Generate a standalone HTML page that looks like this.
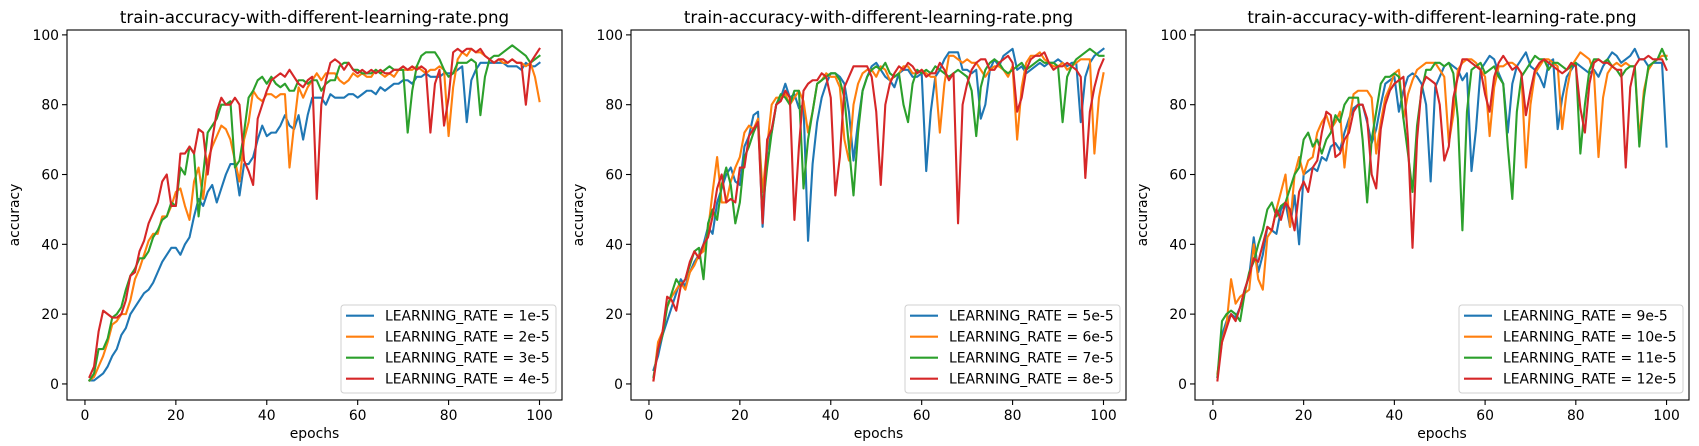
<!DOCTYPE html>
<html><head><meta charset="utf-8"><style>
body{margin:0;background:#fff;}
svg{display:block;font-family:"DejaVu Sans","Liberation Sans",sans-serif;}
</style></head><body>
<svg id="fig" width="1699" height="446" viewBox="0 0 1699 446"></svg>
<script>
const epochs = Array.from({length:100},(_,i)=>i+1);
const xTicks = [0,20,40,60,80,100];
const yTicks = [0,20,40,60,80,100];
const titles = ["train-accuracy-with-different-learning-rate.png","train-accuracy-with-different-learning-rate.png","train-accuracy-with-different-learning-rate.png"];
const labels1 = ["LEARNING_RATE = 1e-5","LEARNING_RATE = 2e-5","LEARNING_RATE = 3e-5","LEARNING_RATE = 4e-5"];
const labels2 = ["LEARNING_RATE = 5e-5","LEARNING_RATE = 6e-5","LEARNING_RATE = 7e-5","LEARNING_RATE = 8e-5"];
const labels3 = ["LEARNING_RATE = 9e-5","LEARNING_RATE = 10e-5","LEARNING_RATE = 11e-5","LEARNING_RATE = 12e-5"];
const lr1e5 = [1,1,2,3,5,8,10,14,16,20,22,24,26,27,29,32,35,37,39,39,37,40,42,48,53,51,55,57,52,56,60,63,63,54,63,63,65,70,74,71,72,72,74,77,74,73,77,70,77,82,82,82,80,83,82,82,82,83,83,82,83,84,84,83,85,84,85,86,86,87,87,86,88,88,89,88,88,88,89,89,89,90,91,75,87,90,92,92,92,92,92,92,91,91,91,90,92,91,91,92];
const lr2e5 = [1,2,5,8,12,17,18,20,20,24,30,33,37,41,43,43,48,48,51,55,56,51,47,58,62,53,64,68,71,74,73,70,64,58,70,75,84,82,81,83,83,82,83,83,62,74,85,82,85,87,89,87,89,89,89,87,86,87,89,88,89,88,88,90,89,88,89,88,90,90,90,90,91,90,89,90,90,91,90,71,85,93,95,94,96,95,95,94,93,92,93,92,92,93,92,92,91,92,88,81];
const lr3e5 = [1,3,10,10,13,19,20,22,27,31,33,36,36,38,42,44,47,48,52,51,62,60,68,66,48,60,72,74,76,80,80,81,62,64,72,82,84,87,88,86,88,86,85,86,84,84,87,87,86,87,87,84,86,87,87,91,92,92,90,90,89,89,89,90,89,90,91,90,90,90,72,84,91,94,95,95,95,93,90,88,89,92,92,92,93,92,77,88,93,94,94,95,96,97,96,95,94,92,93,94];
const lr4e5 = [2,5,15,21,20,19,19,20,24,31,32,38,41,46,49,52,58,60,51,51,66,66,68,66,73,72,60,70,78,82,80,80,82,80,64,61,57,76,80,84,87,88,89,88,90,88,86,85,87,88,53,80,87,92,93,92,90,92,90,89,90,89,90,89,90,89,89,90,90,91,90,91,90,91,90,72,86,90,74,82,95,96,95,96,96,95,96,94,93,92,93,93,92,93,92,92,80,92,94,96];
const lr5e5 = [4,8,14,18,22,26,30,28,32,35,37,40,45,43,52,56,60,62,58,57,68,71,77,78,45,67,72,80,82,86,82,83,79,80,41,63,75,82,86,89,89,88,86,78,64,75,84,88,91,92,90,88,87,85,89,90,90,88,88,89,61,78,88,90,93,95,95,95,90,90,89,90,76,80,90,93,91,94,95,96,90,91,89,90,91,92,91,92,92,93,92,91,92,92,75,88,92,94,95,96];
const lr6e5 = [1,12,15,22,25,27,29,27,32,34,37,38,44,55,65,52,52,58,62,65,72,74,73,76,55,68,80,82,82,83,80,82,84,81,72,78,86,87,89,88,88,85,70,64,80,86,89,90,90,88,91,90,87,88,89,91,91,89,89,90,89,88,88,72,86,94,94,93,92,93,92,92,90,88,90,91,91,90,88,91,70,85,92,94,94,95,93,92,91,91,92,90,91,92,93,93,93,66,82,89];
const lr7e5 = [2,10,14,22,26,30,28,30,34,38,39,30,46,50,47,57,62,57,46,52,65,68,72,75,50,62,72,80,83,82,80,84,84,56,70,78,86,87,88,89,89,87,82,68,54,72,84,88,90,91,90,92,89,88,89,80,75,86,90,89,90,89,91,90,89,88,89,90,89,88,84,71,85,90,92,93,92,90,89,90,91,92,90,91,92,93,92,92,92,91,75,88,91,93,94,95,96,95,94,94];
const lr8e5 = [1,10,15,25,24,21,28,30,35,38,36,40,42,48,56,60,52,53,52,62,62,71,73,75,46,70,73,80,81,84,82,47,68,84,86,87,87,89,88,82,54,65,85,88,91,91,91,91,88,78,57,80,86,89,91,90,92,91,89,90,88,89,89,92,90,87,89,46,80,86,90,92,93,93,90,90,92,93,94,92,78,82,90,93,94,94,95,92,90,91,91,92,91,90,88,59,78,85,90,93];
const lr9e5 = [2,14,18,20,19,22,27,31,42,32,37,45,44,43,50,52,45,54,40,60,61,62,61,65,64,68,69,67,72,76,79,80,80,75,69,73,80,86,87,88,78,84,88,89,88,86,80,58,85,88,91,92,91,90,87,89,61,73,90,92,94,93,89,86,72,86,91,93,95,91,90,88,85,92,93,73,82,88,90,92,91,90,89,90,88,91,93,95,94,92,93,94,96,93,93,91,92,92,92,68];
const lr10e5 = [3,12,17,30,23,25,26,27,40,30,27,42,44,50,55,60,45,60,65,60,64,65,72,75,77,73,75,78,62,75,83,84,84,84,82,66,75,82,85,89,90,76,83,87,90,91,92,92,92,90,88,69,77,90,92,93,93,92,90,88,71,85,91,91,92,92,91,89,62,80,89,91,93,93,92,91,73,84,91,93,95,94,93,89,65,82,89,91,92,91,92,91,91,70,84,90,92,93,94,94];
const lr11e5 = [2,18,20,21,20,18,26,32,35,40,44,50,52,48,51,52,56,60,62,70,72,68,70,66,70,72,77,75,80,82,82,82,70,52,70,78,86,88,88,89,88,76,66,55,74,84,90,90,92,92,91,92,89,76,44,78,90,91,92,89,90,91,88,86,68,53,78,88,90,92,94,93,93,90,92,92,91,90,91,92,66,80,90,93,93,92,93,91,90,88,90,91,91,68,82,91,92,93,96,93];
const lr12e5 = [1,12,16,20,18,22,27,31,36,35,40,45,44,50,47,52,50,44,55,58,55,62,64,72,78,77,65,66,70,72,78,80,80,76,60,56,73,80,84,86,87,88,70,39,70,85,88,87,86,80,64,68,82,88,93,93,92,91,90,83,78,88,92,94,92,90,91,89,77,84,90,92,93,92,91,90,89,90,92,91,79,72,86,92,93,92,92,91,90,90,62,85,91,93,93,94,93,93,93,90];

const colors = ["#1f77b4","#ff7f0e","#2ca02c","#d62728"];
const NS="http://www.w3.org/2000/svg";
const svg=document.getElementById('fig');
function mk(tag,attrs,parent){const e=document.createElementNS(NS,tag);for(const k in attrs)e.setAttribute(k,attrs[k]);(parent||svg).appendChild(e);return e;}

const panels=[
 {left:67,right:562,series:[lr1e5,lr2e5,lr3e5,lr4e5],labels:labels1,legL:341,legR:556},
 {left:631,right:1126,series:[lr5e5,lr6e5,lr7e5,lr8e5],labels:labels2,legL:905,legR:1120},
 {left:1195,right:1689,series:[lr9e5,lr10e5,lr11e5,lr12e5],labels:labels3,legL:1459,legR:1683}
];
const plotTop=30,plotBottom=400,xmin=-3.95,xmax=104.95,ymin=-4.6,ymax=101.4;

panels.forEach((p,pi)=>{
 const g=mk('g',{});
 
 
 const sx=v=>p.left+(v-xmin)/(xmax-xmin)*(p.right-p.left);
 const sy=v=>plotBottom-(v-ymin)/(ymax-ymin)*(plotBottom-plotTop);
 p.series.forEach((arr,si)=>{
  const d=arr.map((v,i)=>(i?'L':'M')+sx(epochs[i]).toFixed(2)+','+sy(v).toFixed(2)).join('');
  const path=mk('path',{d:d,fill:'none',stroke:colors[si],'stroke-width':2.1,'stroke-linejoin':'round','stroke-linecap':'square'},g);
  
  
 });
 const fr=mk('rect',{x:p.left,y:plotTop,width:p.right-p.left,height:plotBottom-plotTop,fill:'none',stroke:'#000','stroke-width':1.1},g);
 
 
 xTicks.forEach(t=>{
  const x=sx(t);
  mk('line',{x1:x,x2:x,y1:plotBottom,y2:plotBottom+5,stroke:'#000','stroke-width':1.1},g);
  const tx=mk('text',{x:x,y:plotBottom+20,'font-size':13.9,'text-anchor':'middle',fill:'#000'},g);
  tx.textContent=t;
  
  
 });
 yTicks.forEach(t=>{
  const y=sy(t);
  mk('line',{x1:p.left-5,x2:p.left,y1:y,y2:y,stroke:'#000','stroke-width':1.1},g);
  const tx=mk('text',{x:p.left-8,y:y+5,'font-size':13.9,'text-anchor':'end',fill:'#000'},g);
  tx.textContent=t;
  
  
 });
 const cx=(p.left+p.right)/2;
 const xl=mk('text',{x:cx,y:438,'font-size':13.9,'text-anchor':'middle'},g);
 xl.textContent='epochs';
 
 
 const yl=mk('text',{x:0,y:0,'font-size':13.9,'text-anchor':'middle',transform:`translate(${p.left-48},${(plotTop+plotBottom)/2}) rotate(-90)`},g);
 yl.textContent='accuracy';
 
 
 const tt=mk('text',{x:cx,y:23,'font-size':16.7,'text-anchor':'middle'},g);
 tt.textContent=titles[pi];
 
 
 const lg=mk('g',{},g);
 
 
 mk('rect',{x:p.legL,y:305,width:p.legR-p.legL,height:88,rx:3,fill:'#fff','fill-opacity':0.8,stroke:'#d0d0d0','stroke-width':1},lg);
 p.labels.forEach((lab,li)=>{
  const y=315.7+li*21;
  const ln=mk('line',{x1:p.legL+5,x2:p.legL+33,y1:y,y2:y,stroke:colors[li],'stroke-width':2.1},lg);
  
  
  const tx=mk('text',{x:p.legL+44,y:y+5,'font-size':13.9},lg);
  tx.textContent=lab;
  
  
 });
});
</script>
</body></html>
